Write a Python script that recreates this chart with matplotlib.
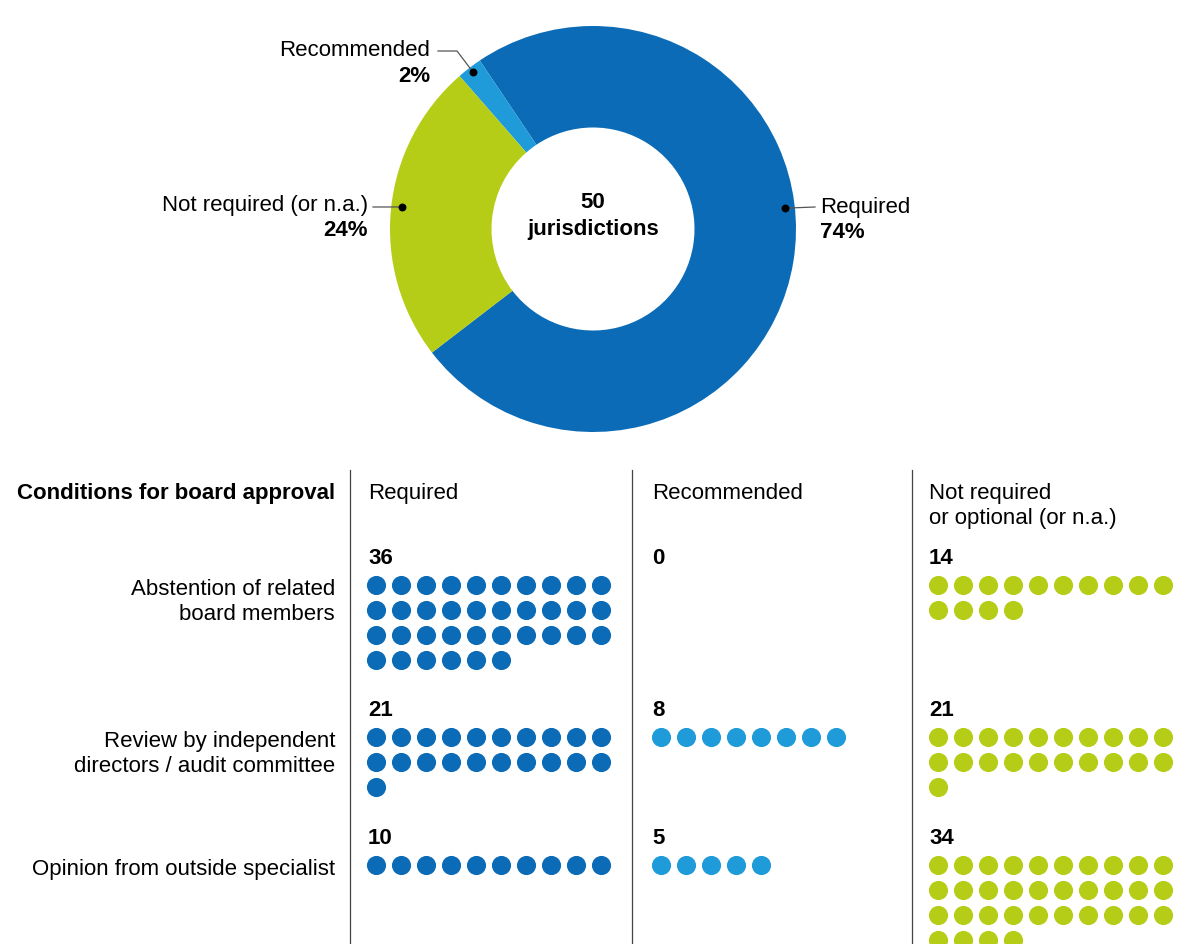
import numpy as np
import matplotlib
matplotlib.use("Agg")
import matplotlib.pyplot as plt

plt.rcParams['font.family'] = ['Liberation Sans', 'DejaVu Sans']

# donut data
categories = ["Required", "Recommended", "Not required (or n.a.)"]
shares = [74, 2, 24]
total_jurisdictions = 50

# dot matrix data
conditions = ["Abstention of related\nboard members",
              "Review by independent\ndirectors / audit committee",
              "Opinion from outside specialist"]
column_titles = ["Required", "Recommended", "Not required\nor optional (or n.a.)"]
required_counts = [36, 21, 10]
recommended_counts = [0, 8, 5]
not_required_counts = [14, 21, 34]

DARK_BLUE = "#0b6bb6"
LIGHT_BLUE = "#1e9bd8"
GREEN = "#b6cd17"
colors = [DARK_BLUE, LIGHT_BLUE, GREEN]

W, H = 1188, 944
FS = 16

fig = plt.figure(figsize=(W / 100, H / 100), dpi=100)

# ---- donut ----
cx, cy, R = 593, 229, 203
pax = fig.add_axes([(cx - R) / W, 1 - (cy + R) / H, 2 * R / W, 2 * R / H])
pax.pie(shares, colors=colors, startangle=-142.5, counterclock=True,
        radius=1, wedgeprops=dict(width=0.5, linewidth=0))
pax.set_xlim(-1, 1)
pax.set_ylim(-1, 1)
pax.set_aspect('equal')
pax.axis('off')
pax.set_zorder(0)

# overlay axes in pixel units for text, leaders and dots
ax = fig.add_axes([0, 0, 1, 1])
ax.set_xlim(0, W)
ax.set_ylim(H, 0)
ax.axis('off')
ax.set_zorder(1)

ax.text(cx, cy - 26, str(total_jurisdictions), ha='center', va='center',
        fontsize=FS, fontweight='bold')
ax.text(cx, cy + 1, "jurisdictions", ha='center', va='center',
        fontsize=FS, fontweight='bold')


def leader(angle_deg, rfrac, path_x, path_y):
    a = np.radians(angle_deg)
    px = cx + rfrac * R * np.cos(a)
    py = cy - rfrac * R * np.sin(a)
    ax.plot([px] + path_x, [py] + path_y, color='#555555', lw=0.9, zorder=5)
    ax.scatter([px], [py], s=22, color='black', zorder=6)


# Required
leader(6.2, 0.95, [815], [207])
ax.text(820, 207, categories[0], ha='left', va='center', fontsize=FS)
ax.text(820, 233, f"{shares[0]}%", ha='left', va='center', fontsize=FS, fontweight='bold')
# Not required
leader(173.4, 0.945, [373], [207])
ax.text(368, 205, categories[2], ha='right', va='center', fontsize=FS)
ax.text(368, 231, f"{shares[2]}%", ha='right', va='center', fontsize=FS, fontweight='bold')
# Recommended
leader(127.4, 0.973, [457, 438], [51, 51])
ax.text(430, 50, categories[1], ha='right', va='center', fontsize=FS)
ax.text(430, 77, f"{shares[1]}%", ha='right', va='center', fontsize=FS, fontweight='bold')

# ---- dot matrix ----
sep_x = [350, 632, 912]
for x in sep_x:
    ax.plot([x, x], [470, H], color='#444444', lw=0.9)

ax.text(335, 494, "Conditions for board approval", ha='right', va='center',
        fontsize=FS, fontweight='bold')
text_x = [368, 652, 929]
dot_x0 = [376, 661, 938]
for tx, title in zip(text_x, column_titles):
    ax.text(tx, 483, title, ha='left', va='top', fontsize=FS, linespacing=1.22)

count_y = [558, 710, 838]
step = 25
per_row = 10
col_counts = [required_counts, recommended_counts, not_required_counts]
for i, label in enumerate(conditions):
    y0 = count_y[i] + 27
    ax.text(335, y0 - 6, label, ha='right', va='top', fontsize=FS, linespacing=1.22)
    for c in range(3):
        n = col_counts[c][i]
        ax.text(text_x[c], count_y[i], str(n), ha='left', va='center',
                fontsize=FS, fontweight='bold')
        k = np.arange(n)
        xs = dot_x0[c] + (k % per_row) * step
        ys = y0 + (k // per_row) * step
        ax.scatter(xs, ys, s=190, color=colors[c], linewidths=0, zorder=3)

fig.savefig("out.png", dpi=100)
